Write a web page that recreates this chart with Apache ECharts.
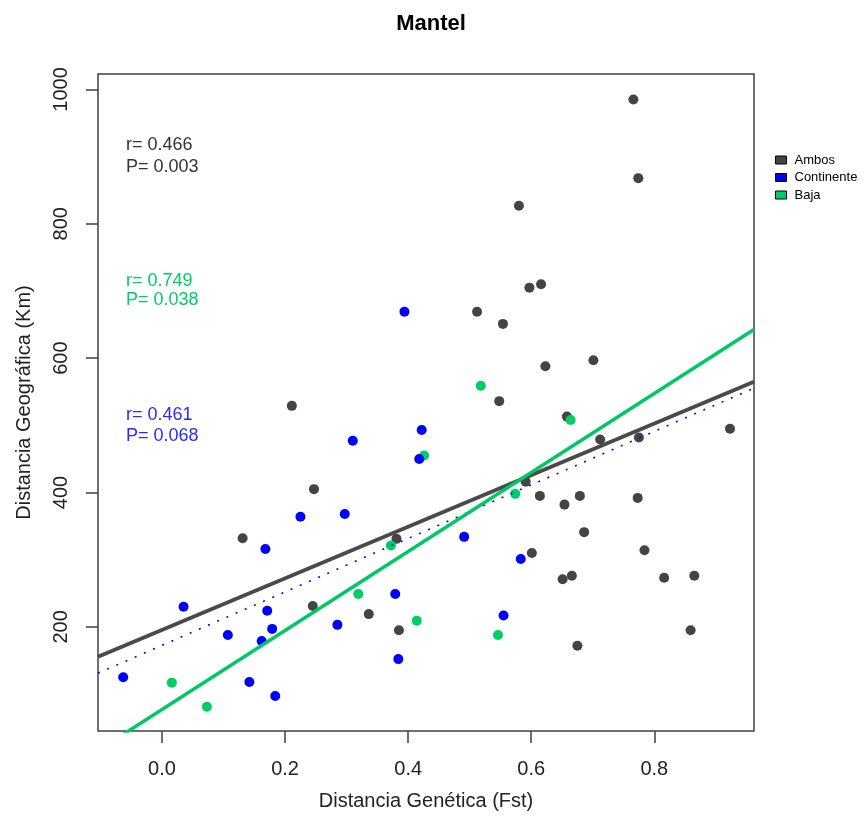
<!DOCTYPE html>
<html>
<head>
  <meta charset="UTF-8">
  <title>Mantel</title>
  <script type="text/javascript" src="https://cdn.jsdelivr.net/npm/echarts@6.0.0/dist/echarts.min.js"></script>
  <style type="text/css">
    *{ margin: 0; padding: 0; }
    html, body{ width: 867px; height: 817px; background: #fff; }
    #main{ width: 867px; height: 817px; }
  </style>
</head>
<body>
<div id="main"></div>
<script type="text/javascript">
// puntos
var ambosX = [0.766, 0.774, 0.580, 0.597, 0.616, 0.512, 0.554, 0.623, 0.701, 0.548, 0.211, 0.658, 0.712, 0.775, 0.923,
              0.247, 0.131, 0.381, 0.591, 0.614, 0.679, 0.654, 0.773, 0.686, 0.601, 0.784, 0.651, 0.666, 0.816, 0.865,
              0.245, 0.336, 0.385, 0.675, 0.859];
var ambosY = [985, 868, 827, 705, 710, 669, 651, 588, 597, 536, 529, 513, 479, 482, 495,
              405, 332, 331, 416, 395, 395, 382, 392, 341, 310, 314, 271, 276, 273, 276,
              231, 219, 195, 172, 195];
var contX = [0.394, 0.310, 0.422, 0.418, 0.225, 0.297, 0.168, 0.035, 0.171, 0.379, 0.179, 0.107, 0.162, 0.285, 0.384,
             -0.063, 0.142, 0.184, 0.491, 0.583, 0.555];
var contY = [669, 477, 493, 450, 364, 368, 316, 230, 224, 249, 197, 188, 179, 203, 152,
             125, 118, 97, 334, 301, 217];
var bajaX = [0.518, 0.426, 0.664, 0.372, 0.574, 0.319, 0.414, 0.546, 0.016, 0.073];
var bajaY = [559, 455, 508, 321, 398, 249, 209, 188, 117, 81];

var groups = ['Ambos', 'Continente', 'Baja'];
var colors = ['#444444', '#0000ff', '#00cd66'];
// rectas de regresion: y = a + b*x
var fitA = [195.5, 172.5, 77];
var fitB = [384, 398, 588];
var statR = ['0.466', '0.461', '0.749'];
var statP = ['0.003', '0.068', '0.038'];

var xTicks = [0, 0.2, 0.4, 0.6, 0.8];
var yTicks = [200, 400, 600, 800, 1000];
var xMin = -0.104, xMax = 0.962, yMin = 45, yMax = 1023;

var FONT = '"Liberation Sans", Arial, sans-serif';

function pares(xs, ys){
  return xs.map(function(x, i){ return [x, ys[i]]; });
}
var puntos = [pares(ambosX, ambosY), pares(contX, contY), pares(bajaX, bajaY)];

var myChart = echarts.init(document.getElementById('main'));

var series = [];
// orden de dibujo: Ambos, Baja, Continente
[0, 2, 1].forEach(function(g){
  series.push({
    name: groups[g], type: 'scatter', data: puntos[g], symbolSize: 10,
    itemStyle: { color: colors[g], opacity: 1 }, z: 2
  });
});
// rectas
var estilos = [
  { color: '#4a4a4a', width: 4, type: 'solid' },
  { color: '#0000ff', width: 1.6, type: [2, 8] },
  { color: '#00c864', width: 3.5, type: 'solid' }
];
[0, 1, 2].forEach(function(g){
  series.push({
    name: 'recta ' + groups[g], type: 'line', silent: true, showSymbol: false, symbol: 'none',
    data: [[xMin, fitA[g] + fitB[g] * xMin], [xMax, fitA[g] + fitB[g] * xMax]],
    lineStyle: estilos[g], z: 3, clip: true
  });
});

// textos r / P
var textos = [];
var filas = [[0, 145, 167], [2, 281, 300], [1, 415, 436]];
filas.forEach(function(f){
  var g = f[0];
  var col = g === 0 ? '#333333' : (g === 1 ? '#2a2aff' : '#00cd66');
  textos.push({ type: 'text', x: 126, y: f[1], style: { text: 'r= ' + statR[g], fill: col, font: '18px ' + FONT, verticalAlign: 'middle' } });
  textos.push({ type: 'text', x: 126, y: f[2], style: { text: 'P= ' + statP[g], fill: col, font: '18px ' + FONT, verticalAlign: 'middle' } });
});

option = {
  animation: false,
  backgroundColor: '#fff',
  textStyle: { fontFamily: FONT },
  title: {
    text: 'Mantel', left: 426, top: 8, textAlign: 'center',
    textStyle: { fontSize: 22, fontWeight: 'bold', color: '#000', fontFamily: FONT }
  },
  legend: {
    data: groups, orient: 'vertical', left: 770, top: 148,
    icon: 'rect', itemWidth: 11, itemHeight: 8, itemGap: 3.5,
    itemStyle: { borderColor: '#000', borderWidth: 1 },
    textStyle: { fontSize: 13, color: '#000', lineHeight: 14, fontFamily: FONT, padding: [0, 0, 0, 3] }
  },
  grid: {
    left: 98, right: 113, top: 74, bottom: 86,
    show: true, borderColor: '#404040', borderWidth: 1.5, backgroundColor: 'transparent'
  },
  xAxis: {
    type: 'value', min: xMin, max: xMax,
    name: 'Distancia Genética (Fst)', nameLocation: 'middle', nameGap: 60,
    nameTextStyle: { fontSize: 20, color: '#222', fontFamily: FONT },
    axisLine: { show: false, onZero: false },
    splitLine: { show: false },
    axisTick: { show: true, length: 12, customValues: xTicks, lineStyle: { color: '#404040', width: 1.5 } },
    axisLabel: { customValues: xTicks, margin: 28, fontSize: 20, color: '#222', fontFamily: FONT,
                 formatter: function(v){ return v.toFixed(1); } }
  },
  yAxis: {
    type: 'value', min: yMin, max: yMax,
    name: 'Distancia Geográfica (Km)', nameLocation: 'middle', nameGap: 64,
    nameTextStyle: { fontSize: 20, color: '#222', fontFamily: FONT },
    axisLine: { show: false, onZero: false },
    splitLine: { show: false },
    axisTick: { show: true, length: 12, customValues: yTicks, lineStyle: { color: '#404040', width: 1.5 } },
    axisLabel: { customValues: yTicks, rotate: 90, margin: 27, fontSize: 20, color: '#222', fontFamily: FONT,
                 formatter: function(v){ return String(Math.round(v)); } }
  },
  graphic: textos,
  series: series
};
myChart.setOption(option);
</script>
</body>
</html>
